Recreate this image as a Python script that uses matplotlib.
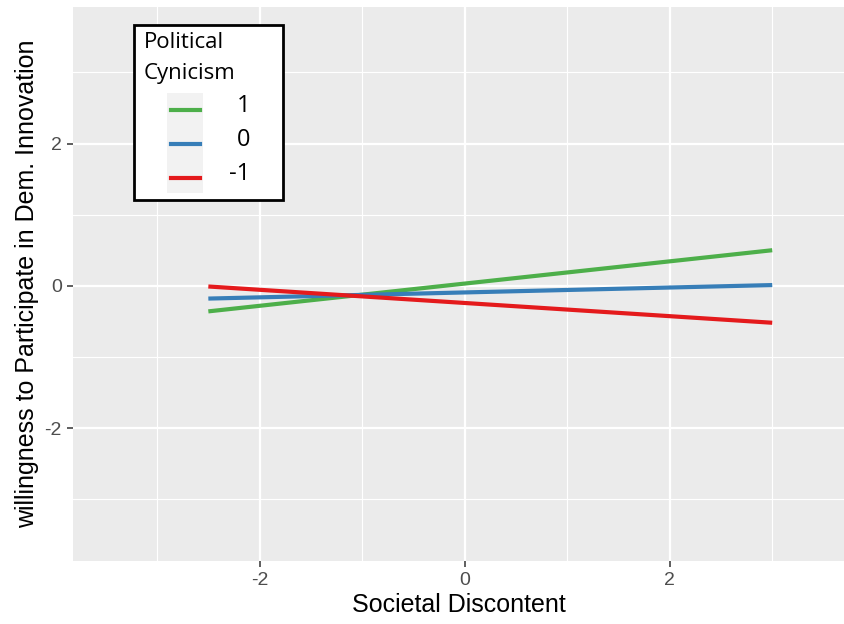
import matplotlib

matplotlib.use("Agg")
import matplotlib.pyplot as plt
from matplotlib.patches import Rectangle
from matplotlib.lines import Line2D

# predicted values at the ends of the discontent range
discontent = [-2.5, 3.0]
cynicism_levels = ["1", "0", "-1"]
predicted = {
    "1": [-0.36, 0.50],
    "0": [-0.18, 0.01],
    "-1": [-0.01, -0.52],
}
level_colors = {"1": "#4DAF4A", "0": "#377EB8", "-1": "#E41A1C"}

x_ticks = [-2, 0, 2]
y_ticks = [-2, 0, 2]

plt.rcParams["font.family"] = ["Liberation Sans", "DejaVu Sans"]
plt.rcParams["axes.unicode_minus"] = False

fig = plt.figure(figsize=(8.44, 6.24), dpi=100)
ax = fig.add_axes([73 / 844, 63 / 624, 1 - 73 / 844, 554 / 624])
ax.set_facecolor("#EBEBEB")
for spine in ax.spines.values():
    spine.set_visible(False)

ax.set_xlim(-3.82, 3.70)
ax.set_ylim(-3.87, 3.92)
ax.set_xticks(x_ticks)
ax.set_yticks(y_ticks)
ax.set_xticks([-3, -1, 1, 3], minor=True)
ax.set_yticks([-3, -1, 1, 3], minor=True)
ax.grid(which="major", color="white", linewidth=1.6)
ax.grid(which="minor", color="white", linewidth=0.8)
ax.set_axisbelow(True)
ax.tick_params(which="major", length=4, width=1.1, color="#333333",
               labelcolor="#4D4D4D", labelsize=14, pad=4)
ax.tick_params(which="minor", length=0)

for level in cynicism_levels:
    ax.plot(discontent, predicted[level], color=level_colors[level],
            linewidth=3, solid_capstyle="butt")

ax.set_xlabel("Societal Discontent", fontsize=18, labelpad=3)
ax.set_ylabel("willingness to Participate in Dem. Innovation", fontsize=18, labelpad=4)

# legend drawn by hand inside the panel, in figure pixels
def px(x, y):
    return x / 844, 1 - y / 624

lx, ly = px(134, 200)
fig.patches.append(Rectangle((lx, ly), 149 / 844, 175 / 624, transform=fig.transFigure,
                             facecolor="white", edgecolor="black", linewidth=2, zorder=5))
kx, ky = px(167, 193)
fig.patches.append(Rectangle((kx, ky), 36 / 844, 100 / 624, transform=fig.transFigure,
                             facecolor="#F2F2F2", edgecolor="none", zorder=6))
for j, line in enumerate(["Political", "Cynicism"]):
    tx, ty = px(144, 43 + j * 31)
    fig.text(tx, ty, line, fontsize=16, va="center", ha="left",
             family=["Open Sans", "DejaVu Sans"], zorder=7)
for i, level in enumerate(cynicism_levels):
    yy = 110 + i * 34
    x0, y0 = px(171, yy)
    x1, _ = px(200, yy)
    fig.lines.append(Line2D([x0, x1], [y0, y0], transform=fig.transFigure,
                            color=level_colors[level], linewidth=3, zorder=7))
    lab_x, lab_y = px(250, yy - 4)
    fig.text(lab_x, lab_y, level, fontsize=17, va="center", ha="right",
             family=["Open Sans", "DejaVu Sans"], zorder=7)

fig.savefig("out.png", dpi=100)
plt.close(fig)
